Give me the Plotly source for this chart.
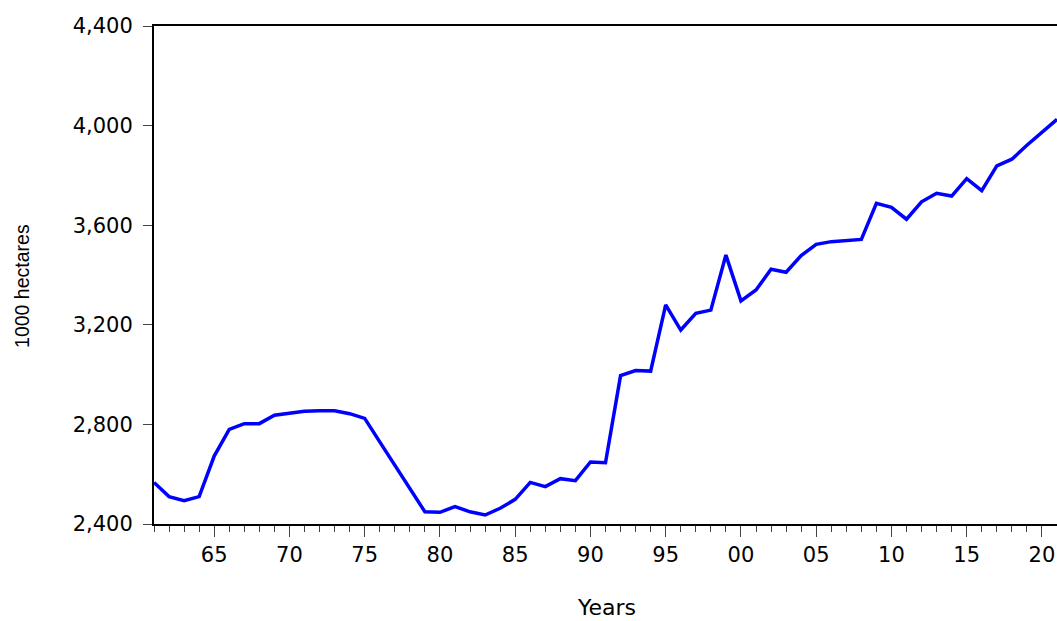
import plotly.graph_objects as go

years = list(range(1961, 2022))
area = [2567, 2510, 2494, 2510, 2673, 2780, 2803, 2803, 2837, 2845,
        2853, 2855, 2855, 2843, 2824, 2730, 2637, 2543, 2449, 2447,
        2470, 2449, 2436, 2463, 2499, 2567, 2550, 2582, 2574, 2649,
        2646, 2996, 3016, 3014, 3280, 3179, 3246, 3259, 3480, 3296,
        3340, 3423, 3411, 3478, 3523, 3534, 3539, 3543, 3688, 3672,
        3624, 3694, 3728, 3717, 3787, 3739, 3838, 3865, 3921, 3972,
        4025]

major_years = list(range(1965, 2021, 5))
major_labels = ["65", "70", "75", "80", "85", "90", "95", "00", "05", "10", "15", "20"]
y_ticks = [2400, 2800, 3200, 3600, 4000, 4400]
y_labels = ["2,400", "2,800", "3,200", "3,600", "4,000", "4,400"]
x_title = "Years"
y_title = "1000 hectares"

TICKFONT = "DejaVu Sans, Liberation Sans, Arial, sans-serif"
TITLEFONT = "Liberation Sans, Arial, sans-serif"

fig = go.Figure()
fig.add_trace(go.Scatter(x=years, y=area, mode="lines",
                         line=dict(color="#0000FF", width=3.5),
                         showlegend=False, cliponaxis=True, hoverinfo="skip"))

fig.update_layout(
    width=1057, height=621,
    margin=dict(l=154, r=0, t=26, b=97),
    paper_bgcolor="white", plot_bgcolor="white",
    font=dict(family=TICKFONT, size=20, color="black"),
    annotations=[
        dict(text=x_title, xref="paper", yref="paper", x=0.5006, y=-0.1667,
             xanchor="center", yanchor="middle", showarrow=False,
             font=dict(family=TICKFONT, size=22, color="black")),
        dict(text=y_title, xref="paper", yref="paper", x=-0.1462, y=0.478,
             xanchor="center", yanchor="middle", showarrow=False, textangle=-90,
             font=dict(family=TITLEFONT, size=19.5, color="black")),
    ],
)
fig.update_xaxes(
    range=[1961, 2021],
    tickmode="array", tickvals=major_years, ticktext=major_labels,
    ticks="outside", ticklen=11, tickwidth=1, tickcolor="#444444",
    minor=dict(ticks="outside", ticklen=6, tickwidth=1, tickcolor="#444444",
               dtick=1, tick0=1961, showgrid=False),
    showline=True, linecolor="black", linewidth=2, mirror=True,
    showgrid=False, zeroline=False,
    tickfont=dict(family=TICKFONT, size=21, color="black"),
    ticklabelstandoff=0,
)
fig.update_yaxes(
    range=[2400, 4400],
    tickmode="array", tickvals=y_ticks, ticktext=y_labels,
    ticks="outside", ticklen=9, tickwidth=1, tickcolor="#444444",
    showline=True, linecolor="black", linewidth=2, mirror=False,
    showgrid=False, zeroline=False,
    tickfont=dict(family=TICKFONT, size=21, color="black"),
    ticklabelstandoff=6,
)

fig.write_html("out.html", config={"displayModeBar": False},
               post_script="document.body.style.margin='0';document.body.style.overflow='hidden';")
